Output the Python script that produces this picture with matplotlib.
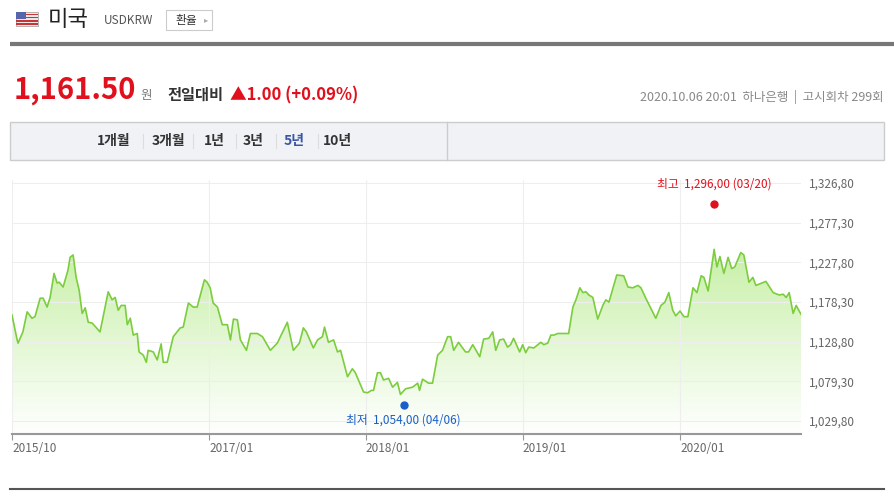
import matplotlib.pyplot as plt
import matplotlib.patches as mpatches
from matplotlib.colors import LinearSegmentedColormap
import numpy as np

plt.rcParams['font.family'] = ['Noto Sans CJK KR', 'DejaVu Sans']

# weeks since 2015/10 start, USD/KRW
weeks = [0, 1.7, 2.0, 3.6, 5.0, 6.6, 7.6, 9.3, 10.3, 11.6, 12.6, 13.9, 14.9, 15.6, 16.9, 18.5, 19.2, 20.2,
         21.2, 22.2, 23.2, 24.2, 25.2, 26.5, 29.1, 31.8, 33.1, 34.1, 35.1, 36.1, 37.4, 38.1, 39.1, 40.1,
         41.4, 42.0, 43.4, 44.4, 45.0, 46.7, 48.0, 49.3, 50.0, 51.3, 53.3, 55.6, 56.6, 58.3, 59.9, 61.2,
         63.6, 64.5, 65.5, 66.5, 67.9, 69.5, 71.2, 72.2, 73.2, 74.5, 75.5, 77.5, 78.8, 79.8, 81.1, 82.8,
         85.4, 87.7, 91.0, 93.0, 95.0, 96.3, 97.3, 99.6, 101.0, 102.6, 103.3, 104.6, 106.3, 107.6, 108.6,
         110.9, 112.5, 113.5, 116.2, 117.5, 118.8, 119.5, 120.8, 121.8, 122.8, 124.5, 125.8, 127.4, 128.4,
         130.1, 132.4, 134.1, 134.7, 135.7, 137.7, 139.0, 140.7, 142.3, 144.0, 145.0, 146.0, 147.6, 149.9,
         150.9, 152.3, 154.6, 155.9, 157.6, 158.9, 159.9, 161.2, 162.5, 163.8, 164.8, 165.8, 167.8, 168.8,
         169.8, 170.8, 172.5, 174.8, 175.8, 177.1, 178.1, 179.1, 180.4, 184.0, 185.4, 186.4, 187.7, 188.7,
         189.7, 190.7, 192.0, 193.6, 195.3, 196.3, 197.3, 199.9, 202.2, 203.6, 205.2, 206.9, 207.9, 209.5,
         212.8, 214.5, 215.8, 217.1, 218.4, 219.4, 220.8, 222.1, 223.4, 225.1, 226.4, 227.8, 228.7, 230.1,
         232.1, 233.0, 234.0, 235.3, 236.7, 237.9, 238.9, 240.9, 241.9, 243.6, 244.9, 245.9, 249.2, 251.6,
         253.6, 254.9, 255.9, 256.9, 258.2, 259.2, 260.8]
rates = [1162, 1131, 1127, 1141, 1166, 1158, 1160, 1183, 1183, 1172, 1184, 1214, 1202, 1203, 1197, 1218, 1234, 1237,
         1209, 1193, 1164, 1171, 1153, 1152, 1141, 1191, 1181, 1184, 1168, 1174, 1174, 1150, 1158, 1137,
         1139, 1116, 1112, 1103, 1118, 1116, 1106, 1126, 1103, 1103, 1135, 1146, 1147, 1177, 1172, 1172,
         1206, 1203, 1196, 1177, 1172, 1150, 1150, 1131, 1157, 1156, 1131, 1118, 1139, 1139, 1139, 1135,
         1118, 1127, 1153, 1118, 1127, 1146, 1141, 1121, 1131, 1135, 1147, 1128, 1131, 1116, 1118,
         1085, 1095, 1090, 1066, 1065, 1068, 1068, 1090, 1090, 1081, 1083, 1072, 1078, 1063,
         1070, 1072, 1077, 1068, 1082, 1077, 1077, 1112, 1118, 1135, 1135, 1118, 1128, 1116,
         1116, 1125, 1110, 1132, 1133, 1141, 1118, 1131, 1132, 1122, 1125, 1133, 1116, 1125,
         1115, 1122, 1121, 1128, 1125, 1127, 1137, 1137, 1139, 1139, 1172, 1181, 1196, 1190,
         1191, 1187, 1184, 1157, 1174, 1181, 1178, 1212, 1211, 1197, 1196, 1199, 1196, 1183,
         1158, 1174, 1178, 1190, 1168, 1161, 1167, 1160, 1160, 1196, 1190, 1211, 1209, 1192,
         1244, 1222, 1235, 1214, 1234, 1220, 1222, 1240, 1237, 1203, 1209, 1199, 1204, 1190,
         1187, 1188, 1184, 1190, 1164, 1174, 1163]

tick_weeks = [0, 65.2, 116.9, 168.9, 220.9]
tick_labels = ['2015/10', '2017/01', '2018/01', '2019/01', '2020/01']
y_ticks = [1029.8, 1079.3, 1128.8, 1178.3, 1227.8, 1277.3, 1326.8]

high_week, high_val, high_text = 232.1, 1300, '최고  1,296,00 (03/20)'
low_week, low_val, low_text = 129.5, 1050, '최저  1,054,00 (04/06)'

W, H = 894, 499
fig = plt.figure(figsize=(W / 100, H / 100), dpi=100)

# header
bg = fig.add_axes([0, 0, 1, 1])
bg.set_xlim(0, W)
bg.set_ylim(H, 0)
bg.axis('off')
bg.add_patch(mpatches.Rectangle((16, 12), 22, 14, facecolor='#e8e8e8', edgecolor='#999999', lw=0.5))
for i in range(4):
    bg.add_patch(mpatches.Rectangle((16, 13.5 + i * 3.3), 22, 1.6, facecolor='#cc3333', lw=0))
bg.add_patch(mpatches.Rectangle((16, 12), 10, 7, facecolor='#5566aa', lw=0))
bg.text(48, 19, '미국', fontsize=16, va='center', color='#222222')
bg.text(104, 20, 'USDKRW', fontsize=8.5, va='center', color='#555555')
bg.add_patch(mpatches.Rectangle((166, 10), 46, 20, facecolor='white', edgecolor='#cccccc', lw=0.8))
bg.text(186, 20, '환율', fontsize=8.5, va='center', ha='center', color='#333333')
bg.text(206, 20, '▸', fontsize=6, va='center', ha='center', color='#aaaaaa')
bg.plot([10, 894], [44, 44], color='#777777', lw=3, solid_capstyle='butt')

bg.text(14, 90, '1,161.50', fontsize=21, fontweight='bold', color='#e0101c', va='center')
bg.text(140, 95, '원', fontsize=9, color='#777777', va='center')
bg.text(167, 95, '전일대비', fontsize=11, fontweight='bold', color='#333333', va='center')
bg.text(230, 95, '▲1.00 (+0.09%)', fontsize=12, fontweight='bold', color='#e0101c', va='center')
bg.text(884, 97, '2020.10.06 20:01  하나은행  |  고시회차 299회', fontsize=9, color='#888888',
        va='center', ha='right')

bg.add_patch(mpatches.Rectangle((10, 122), 874, 38, facecolor='#f0f2f6', edgecolor='#cccccc', lw=1))
bg.plot([447, 447], [122, 160], color='#cccccc', lw=1)
periods = ['1개월', '3개월', '1년', '3년', '5년', '10년']
px = [114, 168, 214, 253, 294, 337]
for i, (p, x) in enumerate(zip(periods, px)):
    bg.text(x, 141, p, fontsize=10, fontweight='bold', ha='center', va='center',
            color='#3a56a8' if p == '5년' else '#333333')
    if i < len(px) - 1:
        bg.plot([(x + px[i + 1]) / 2 + 2] * 2, [134, 148], color='#dddddd', lw=0.8)
bg.plot([10, 884], [489, 489], color='#555555', lw=1.5)

# chart
ax = fig.add_axes([12 / W, 1 - 434 / H, (801 - 12) / W, (434 - 180) / H])
ax.set_xlim(0, 260.8)
ax.set_ylim(1013.6, 1330.5)
x = np.array(weeks)
y = np.array(rates)
ylo = ax.get_ylim()[0]
grad = np.linspace(0, 1, 256).reshape(-1, 1)
cmap = LinearSegmentedColormap.from_list('g', ['#ffffff', '#c8f0a8'])
img = ax.imshow(grad, cmap=cmap, aspect='auto', origin='lower',
                extent=[0, 260.8, ylo, max(rates)], zorder=1)
poly = ax.fill_between(x, y, ylo, color='none')
img.set_clip_path(poly.get_paths()[0], transform=ax.transData)
ax.plot(x, y, color='#7ccd3e', lw=1.2, zorder=3)

ax.set_yticks(y_ticks)
ax.set_yticklabels([f'{v:,.2f}'.replace('.', ',') for v in y_ticks])
ax.yaxis.tick_right()
ax.tick_params(axis='y', length=0, labelsize=8.5, labelcolor='#666666', pad=6)
ax.set_xticks(tick_weeks)
ax.set_xticklabels(tick_labels)
ax.tick_params(axis='x', length=4, color='#999999', labelsize=8.5, labelcolor='#666666', pad=2)
for lbl in ax.get_xticklabels():
    lbl.set_horizontalalignment('left')
ax.grid(True, color='#eeeeee', lw=0.8, zorder=0)
for s in ['top', 'right', 'left']:
    ax.spines[s].set_visible(False)
ax.spines['bottom'].set_color('#999999')
ax.spines['bottom'].set_linewidth(1.5)

ax.plot(high_week, high_val, 'o', color='#e0101c', ms=5, zorder=4)
ax.annotate(high_text, (high_week, high_val), xytext=(0, 10), textcoords='offset points',
            ha='center', va='bottom', fontsize=8.5, color='#e0101c')
ax.plot(low_week, low_val, 'o', color='#1a5fc8', ms=5, zorder=4)
ax.annotate(low_text, (low_week, low_val), xytext=(0, -6), textcoords='offset points',
            ha='center', va='top', fontsize=8.5, color='#1a5fc8')

fig.savefig('out.png', dpi=100)
